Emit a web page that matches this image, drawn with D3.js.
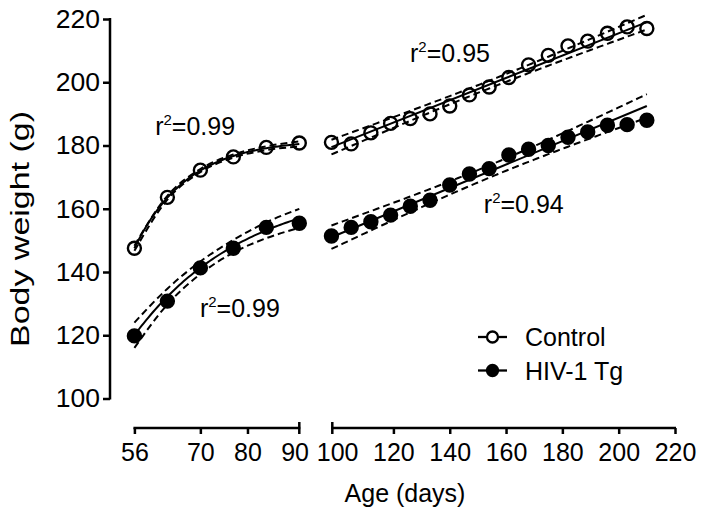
<!DOCTYPE html>
<html><head><meta charset="utf-8">
<script src="https://cdn.jsdelivr.net/npm/d3@7"></script>
<style>
body{margin:0;background:#fff}
svg{display:block}
text{font-family:Arial,"Liberation Sans",Helvetica,sans-serif;fill:#000}
</style>
</head><body>
<svg id="c" width="704" height="518"></svg>
<script>
// ---------- data ----------
const earlyDays = [56, 63, 70, 77, 84, 91];
const ctrlEarly = [147.5, 163.6, 172.2, 176.4, 179.4, 180.8];
const hivEarly  = [119.8, 130.8, 141.3, 147.5, 154.1, 155.4];

const lateDays = [98, 105, 112, 119, 126, 133, 140, 147, 154, 161, 168, 175, 182, 189, 196, 203, 210];
const ctrlLate = [181, 180.5, 184, 187, 188.5, 190, 192.5, 196, 198.5, 201.5, 205.5, 208.5, 211.5, 213, 215.5, 217.5, 217];
const hivLate  = [151.4, 154.1, 155.9, 158, 160.8, 162.7, 167.5, 171, 172.7, 177, 178.8, 180, 182.6, 184.3, 186.4, 186.6, 188];

const yTicks = [100, 120, 140, 160, 180, 200, 220];
const xTicksEarly = [56, 70, 80, 90];
const xTicksLate = [100, 120, 140, 160, 180, 200, 220];

// fitted models
const ctrlEarlyFit = [147.5, 182, 0.089];   // Y0, plateau, K (one-phase association)
const hivEarlyFit  = [120, 168, 0.042];
const ctrlEarlyBand = [0.8, 0.6, 0.5, 0.5, 0.6, 0.8];  // half-width of 95% band at earlyDays
const hivEarlyBand  = [4, 2.5, 2, 2, 2.5, 3];
const ctrlLateLine = [179.5, 219];   // regression value at first / last late day
const hivLateLine  = [151, 192.5];
const ctrlLateBandScale = 5;
const hivLateBandScale  = 8;

const seriesNames = ["Control", "HIV-1 Tg"];
const r2Labels = [
  {day: 60.4, val: 183.4, seg: "early", txt: "0.99"},
  {day: 69.9, val: 125.9, seg: "early", txt: "0.99"},
  {day: 125.9, val: 206.3, seg: "late", txt: "0.95"},
  {day: 152.1, val: 158.6, seg: "late", txt: "0.94"}
];

// ---------- scales ----------
const svg = d3.select("#c");
const y = d3.scaleLinear().domain([100, 220]).range([398.5, 19]);
const xE = d3.scaleLinear().domain([56, 91]).range([134.4, 299.3]);
const xL = d3.scaleLinear().domain([98.3, 220]).range([332.3, 675]);
const axisY = 428;
const FS = 25;

// ---------- axes ----------
const gy = svg.append("g").attr("transform", "translate(110,0)")
  .call(d3.axisLeft(y).tickValues(yTicks).tickSize(7).tickSizeOuter(0).tickPadding(3));
gy.selectAll("text").style("font-size", "26.5px");
gy.selectAll("line,path").attr("stroke", "#000").attr("stroke-width", 2.5);
gy.select(".domain").attr("d", `M0,${y(220)-1}V${y(100)+1}`);

function xAxis(scale, ticks, noTick, d0, d1, capStart, capEnd) {
  const g = svg.append("g").attr("transform", `translate(0,${axisY})`)
    .call(d3.axisBottom(scale).tickValues(ticks).tickSize(6).tickSizeOuter(0).tickPadding(9));
  g.select(".domain").remove();
  g.selectAll("text").style("font-size", FS + "px");
  g.selectAll(".tick line").attr("stroke", "#000").attr("stroke-width", 2.5)
    .attr("display", d => noTick.includes(d) ? "none" : null);
  g.append("line").attr("x1", scale(d0) - 1).attr("x2", scale(d1) + 1)
    .attr("stroke", "#000").attr("stroke-width", 2.5);
  if (capStart) g.append("line").attr("x1", scale(d0)).attr("x2", scale(d0))
    .attr("y1", -6).attr("y2", 6).attr("stroke", "#000").attr("stroke-width", 2.5);
  if (capEnd) g.append("line").attr("x1", scale(d1)).attr("x2", scale(d1))
    .attr("y1", -6).attr("y2", 6).attr("stroke", "#000").attr("stroke-width", 2.5);
}
xAxis(xE, xTicksEarly, [90], 56, 91, false, true);
xAxis(xL, xTicksLate, [100], 98.3, 220, true, false);

svg.append("text").attr("x", 405).attr("y", 502).attr("text-anchor", "middle")
  .style("font-size", FS + "px").text("Age (days)");
svg.append("text").attr("transform", "translate(28.5,229) rotate(-90)")
  .attr("text-anchor", "middle").style("font-size", "25px")
  .attr("textLength", 236).attr("lengthAdjust", "spacingAndGlyphs").text("Body weight (g)");

// ---------- fits ----------
const plot = svg.append("g");
const lineGen = (xs) => d3.line().x(d => xs(d[0])).y(d => y(d[1]));

function drawPoints(xs, days, vals, filled) {
  plot.append("g").selectAll("circle").data(days.map((d, i) => [d, vals[i]])).join("circle")
    .attr("cx", d => xs(d[0])).attr("cy", d => y(d[1])).attr("r", 6.5)
    .attr("fill", filled ? "#000" : "#fff").attr("stroke", "#000").attr("stroke-width", 2.4);
}
drawPoints(xE, earlyDays, ctrlEarly, false);
drawPoints(xE, earlyDays, hivEarly, true);
drawPoints(xL, lateDays, ctrlLate, false);
drawPoints(xL, lateDays, hivLate, true);

function earlyFit(p) {
  return x => p[0] + (p[1] - p[0]) * (1 - Math.exp(-p[2] * (x - 56)));
}
function drawEarly(p, band) {
  const f = earlyFit(p);
  const xs = d3.range(56, 91.01, 0.5);
  plot.append("path").attr("d", lineGen(xE)(xs.map(x => [x, f(x)])))
    .attr("fill", "none").attr("stroke", "#000").attr("stroke-width", 2);
  [1, -1].forEach(s => {
    plot.append("path")
      .attr("d", lineGen(xE).curve(d3.curveMonotoneX)(earlyDays.map((d, i) => [d, f(d) + s * band[i]])))
      .attr("fill", "none").attr("stroke", "#000").attr("stroke-width", 2).attr("stroke-dasharray", "7,4");
  });
}
drawEarly(ctrlEarlyFit, ctrlEarlyBand);
drawEarly(hivEarlyFit, hivEarlyBand);

function drawLate(line, scaleC) {
  const d0 = lateDays[0], d1 = lateDays[lateDays.length - 1];
  const slope = (line[1] - line[0]) / (d1 - d0);
  const f = x => line[0] + slope * (x - d0);
  const n = lateDays.length, xbar = d3.mean(lateDays);
  const sxx = d3.sum(lateDays, d => (d - xbar) ** 2);
  const hw = x => scaleC * Math.sqrt(1 / n + (x - xbar) ** 2 / sxx);
  const xs = d3.range(d0, d1 + 0.01, 1);
  plot.append("path").attr("d", lineGen(xL)([[d0, f(d0)], [d1, f(d1)]]))
    .attr("fill", "none").attr("stroke", "#000").attr("stroke-width", 2);
  [1, -1].forEach(s => {
    plot.append("path").attr("d", lineGen(xL)(xs.map(x => [x, f(x) + s * hw(x)])))
      .attr("fill", "none").attr("stroke", "#000").attr("stroke-width", 2).attr("stroke-dasharray", "7,4");
  });
}
drawLate(ctrlLateLine, ctrlLateBandScale);
drawLate(hivLateLine, hivLateBandScale);

// ---------- r² labels ----------
r2Labels.forEach(l => {
  const xs = l.seg === "early" ? xE : xL;
  const t = svg.append("text").attr("x", xs(l.day)).attr("y", y(l.val)).style("font-size", FS + "px");
  t.append("tspan").text("r");
  t.append("tspan").attr("dy", -10).style("font-size", "15px").text("2");
  t.append("tspan").attr("dy", 10).text("=" + l.txt);
});

// ---------- legend ----------
const leg = svg.append("g").attr("transform", "translate(478,337)");
seriesNames.forEach((name, i) => {
  const g = leg.append("g").attr("transform", `translate(0,${i * 33.5})`);
  g.append("line").attr("x1", 0).attr("x2", 29).attr("stroke", "#000").attr("stroke-width", 2.3);
  g.append("circle").attr("cx", 14.5).attr("r", 5.5).attr("fill", i ? "#000" : "#fff")
    .attr("stroke", "#000").attr("stroke-width", 2.3);
  g.append("text").attr("x", 47).attr("y", 9).style("font-size", FS + "px").text(name);
});
</script>
</body></html>
